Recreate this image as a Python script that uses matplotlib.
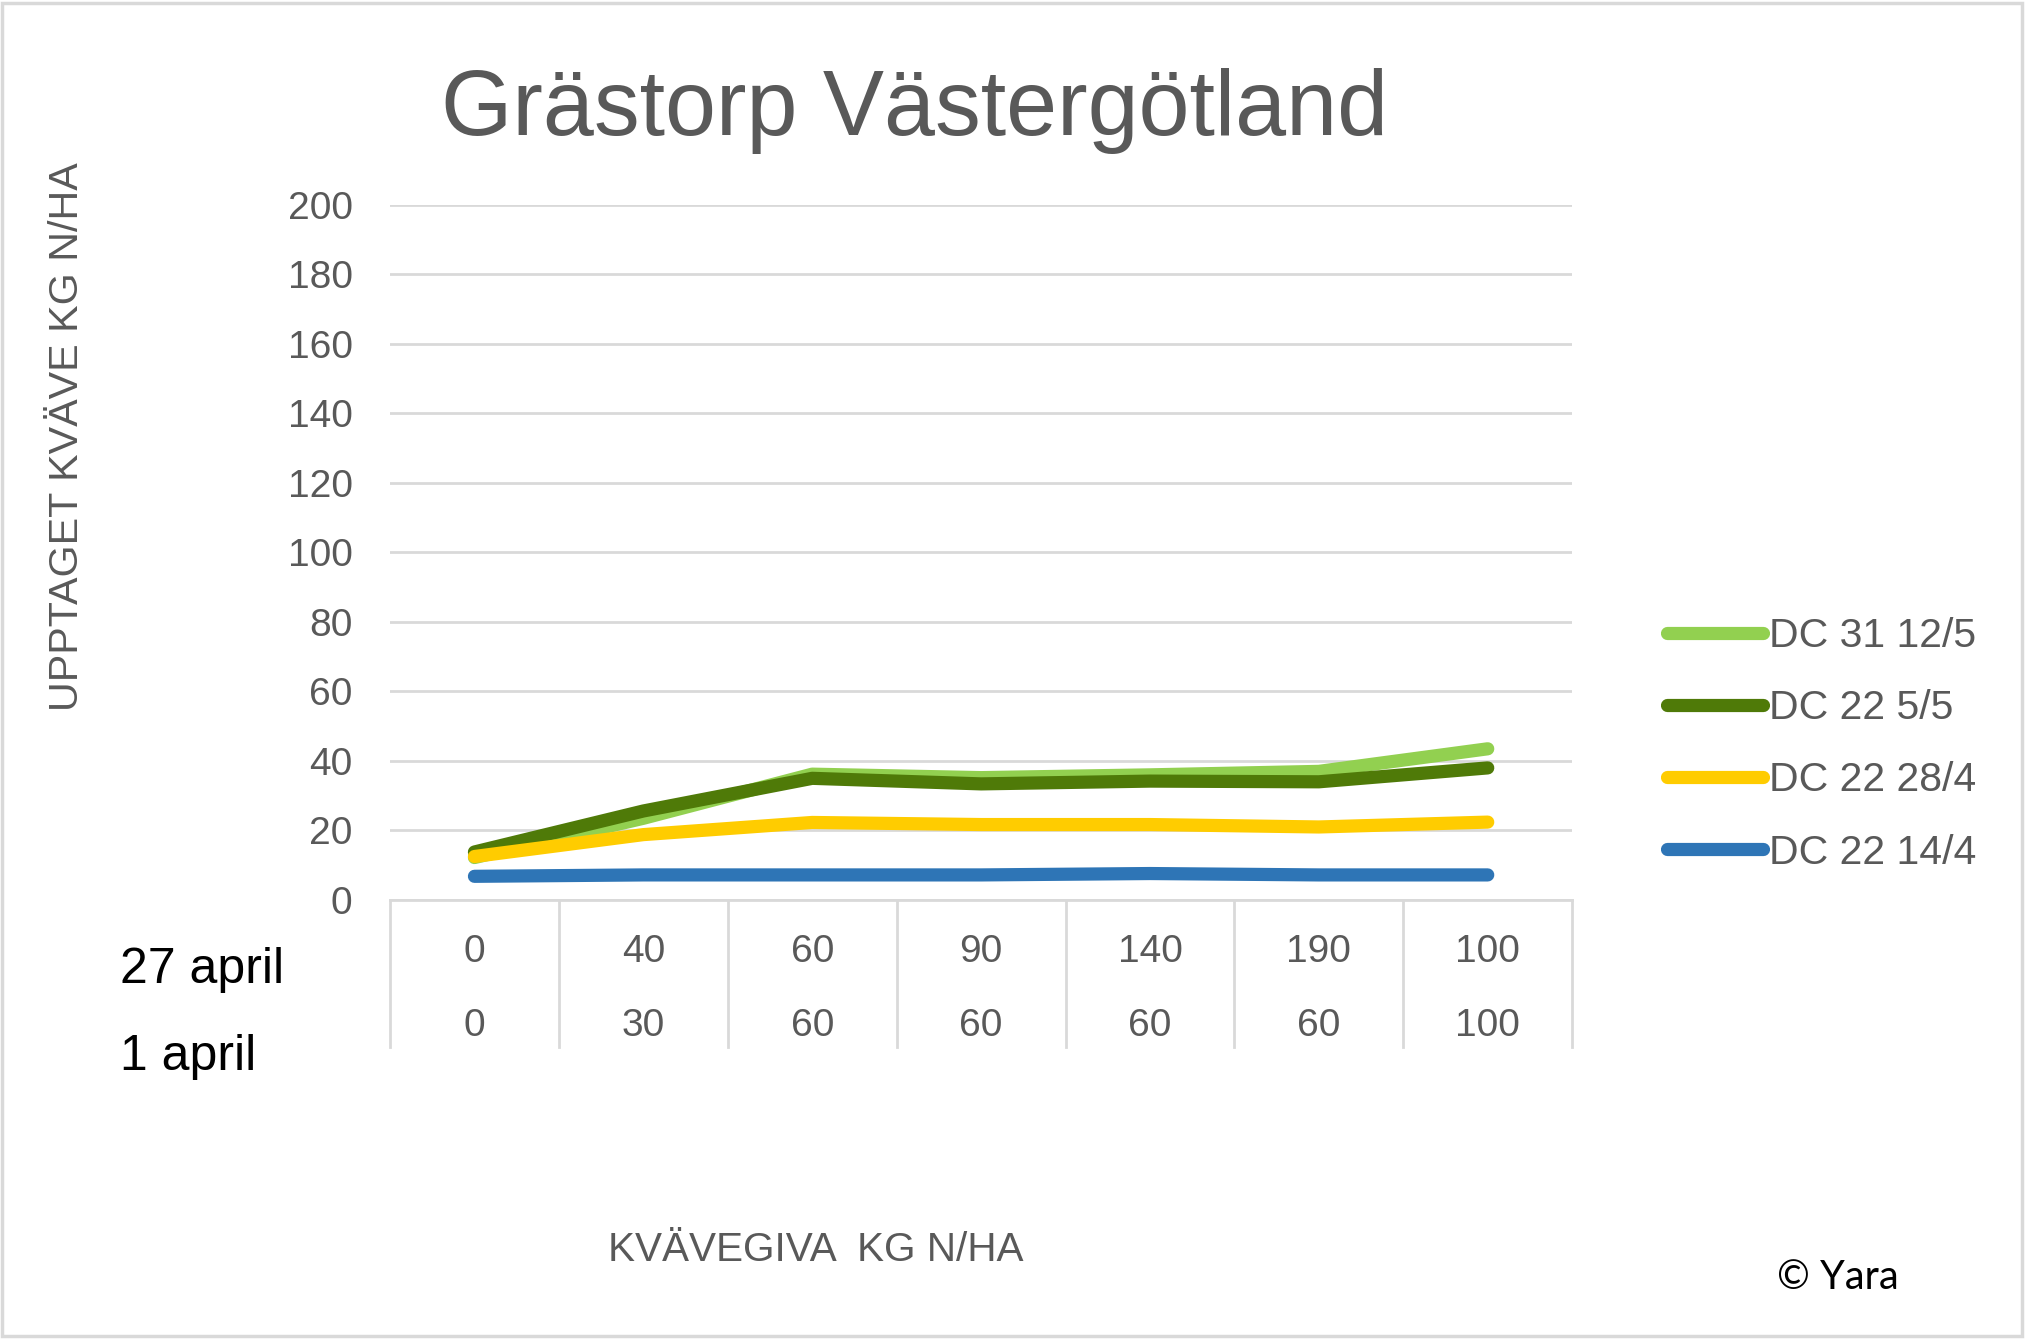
import matplotlib
matplotlib.use("Agg")
import matplotlib.pyplot as plt
from matplotlib import transforms
from matplotlib.patches import Rectangle

# data
rate_27_april = ["0", "40", "60", "90", "140", "190", "100"]
rate_1_april = ["0", "30", "60", "60", "60", "60", "100"]
dc31_12_5 = [12.2, 23.5, 36.2, 35.2, 36.0, 37.0, 43.5]
dc22_5_5 = [13.8, 25.6, 35.0, 33.4, 34.2, 34.0, 38.0]
dc22_28_4 = [12.5, 18.8, 22.3, 21.7, 21.7, 21.0, 22.4]
dc22_14_4 = [6.8, 7.2, 7.2, 7.2, 7.6, 7.2, 7.2]
series_labels = ["DC 31 12/5", "DC 22 5/5", "DC 22 28/4", "DC 22 14/4"]
series_colors = ["#92D050", "#4F7A08", "#FFCC00", "#2E75B6"]
y_ticks = [0, 20, 40, 60, 80, 100, 120, 140, 160, 180, 200]

GRID = "#D9D9D9"
TEXT = "#595959"
FS = 28

plt.rcParams['font.family'] = ['Liberation Sans', 'DejaVu Sans']

fig = plt.figure(figsize=(20.26, 13.39), dpi=100)
ax = fig.add_axes([0.1925, 0.3279, 0.776 - 0.1925, 0.8469 - 0.3279])

xs = list(range(len(rate_27_april)))
for vals, lab, col in zip([dc31_12_5, dc22_5_5, dc22_28_4, dc22_14_4],
                          series_labels, series_colors):
    ax.plot(xs, vals, color=col, linewidth=9.5, label=lab,
            solid_capstyle='round', solid_joinstyle='round')

ax.set_xlim(-0.5, len(xs) - 0.5)
ax.set_ylim(0, 200)
ax.set_yticks(y_ticks)
ax.set_xticks([])
ax.yaxis.grid(True, color=GRID, linewidth=2)
ax.set_axisbelow(True)
for s in ["left", "right", "top"]:
    ax.spines[s].set_visible(False)
ax.spines["bottom"].set_color(GRID)
ax.spines["bottom"].set_linewidth(2)
ax.tick_params(axis='y', length=0, pad=27, labelsize=FS, labelcolor=TEXT)

# two-level category axis
trans = transforms.blended_transform_factory(ax.transData, ax.transAxes)
for i in range(len(xs) + 1):
    ax.plot([i - 0.5, i - 0.5], [0, -0.212], transform=trans, color=GRID,
            linewidth=2, clip_on=False)
for i in xs:
    ax.text(i, -0.075, rate_27_april[i], transform=trans, ha='center',
            va='center', fontsize=FS, color=TEXT)
    ax.text(i, -0.181, rate_1_april[i], transform=trans, ha='center',
            va='center', fontsize=FS, color=TEXT)

fig.text(0.0592, 0.2756, "27 april", fontsize=36, color='black', va='center')
fig.text(0.0592, 0.2106, "1 april", fontsize=36, color='black', va='center')

fig.text(0.4516, 0.917, "Grästorp Västergötland", fontsize=66, color=TEXT,
         ha='center', va='center')
fig.text(0.033, 0.674, "UPPTAGET KVÄVE KG N/HA", fontsize=29.7, color=TEXT,
         rotation=90, ha='center', va='center')
fig.text(0.4027, 0.0662, "KVÄVEGIVA  KG N/HA", fontsize=29.2, color=TEXT,
         ha='center', va='center')
fig.text(0.8771, 0.046, "© Yara", fontsize=28.5, color='black',
         family=['Lato', 'DejaVu Sans'], va='center')

fig.legend(loc='upper left', bbox_to_anchor=(1667 / 2026, 1 - 617 / 1339),
           frameon=False, fontsize=29.5, handlelength=2.35, handletextpad=0.15,
           labelspacing=0.835, borderpad=0, borderaxespad=0, labelcolor=TEXT)

fig.patches.append(Rectangle((0.001, 0.002), 0.997, 0.996, transform=fig.transFigure,
                             fill=False, edgecolor=GRID, linewidth=2.5))

fig.savefig("out.png", dpi=100)
